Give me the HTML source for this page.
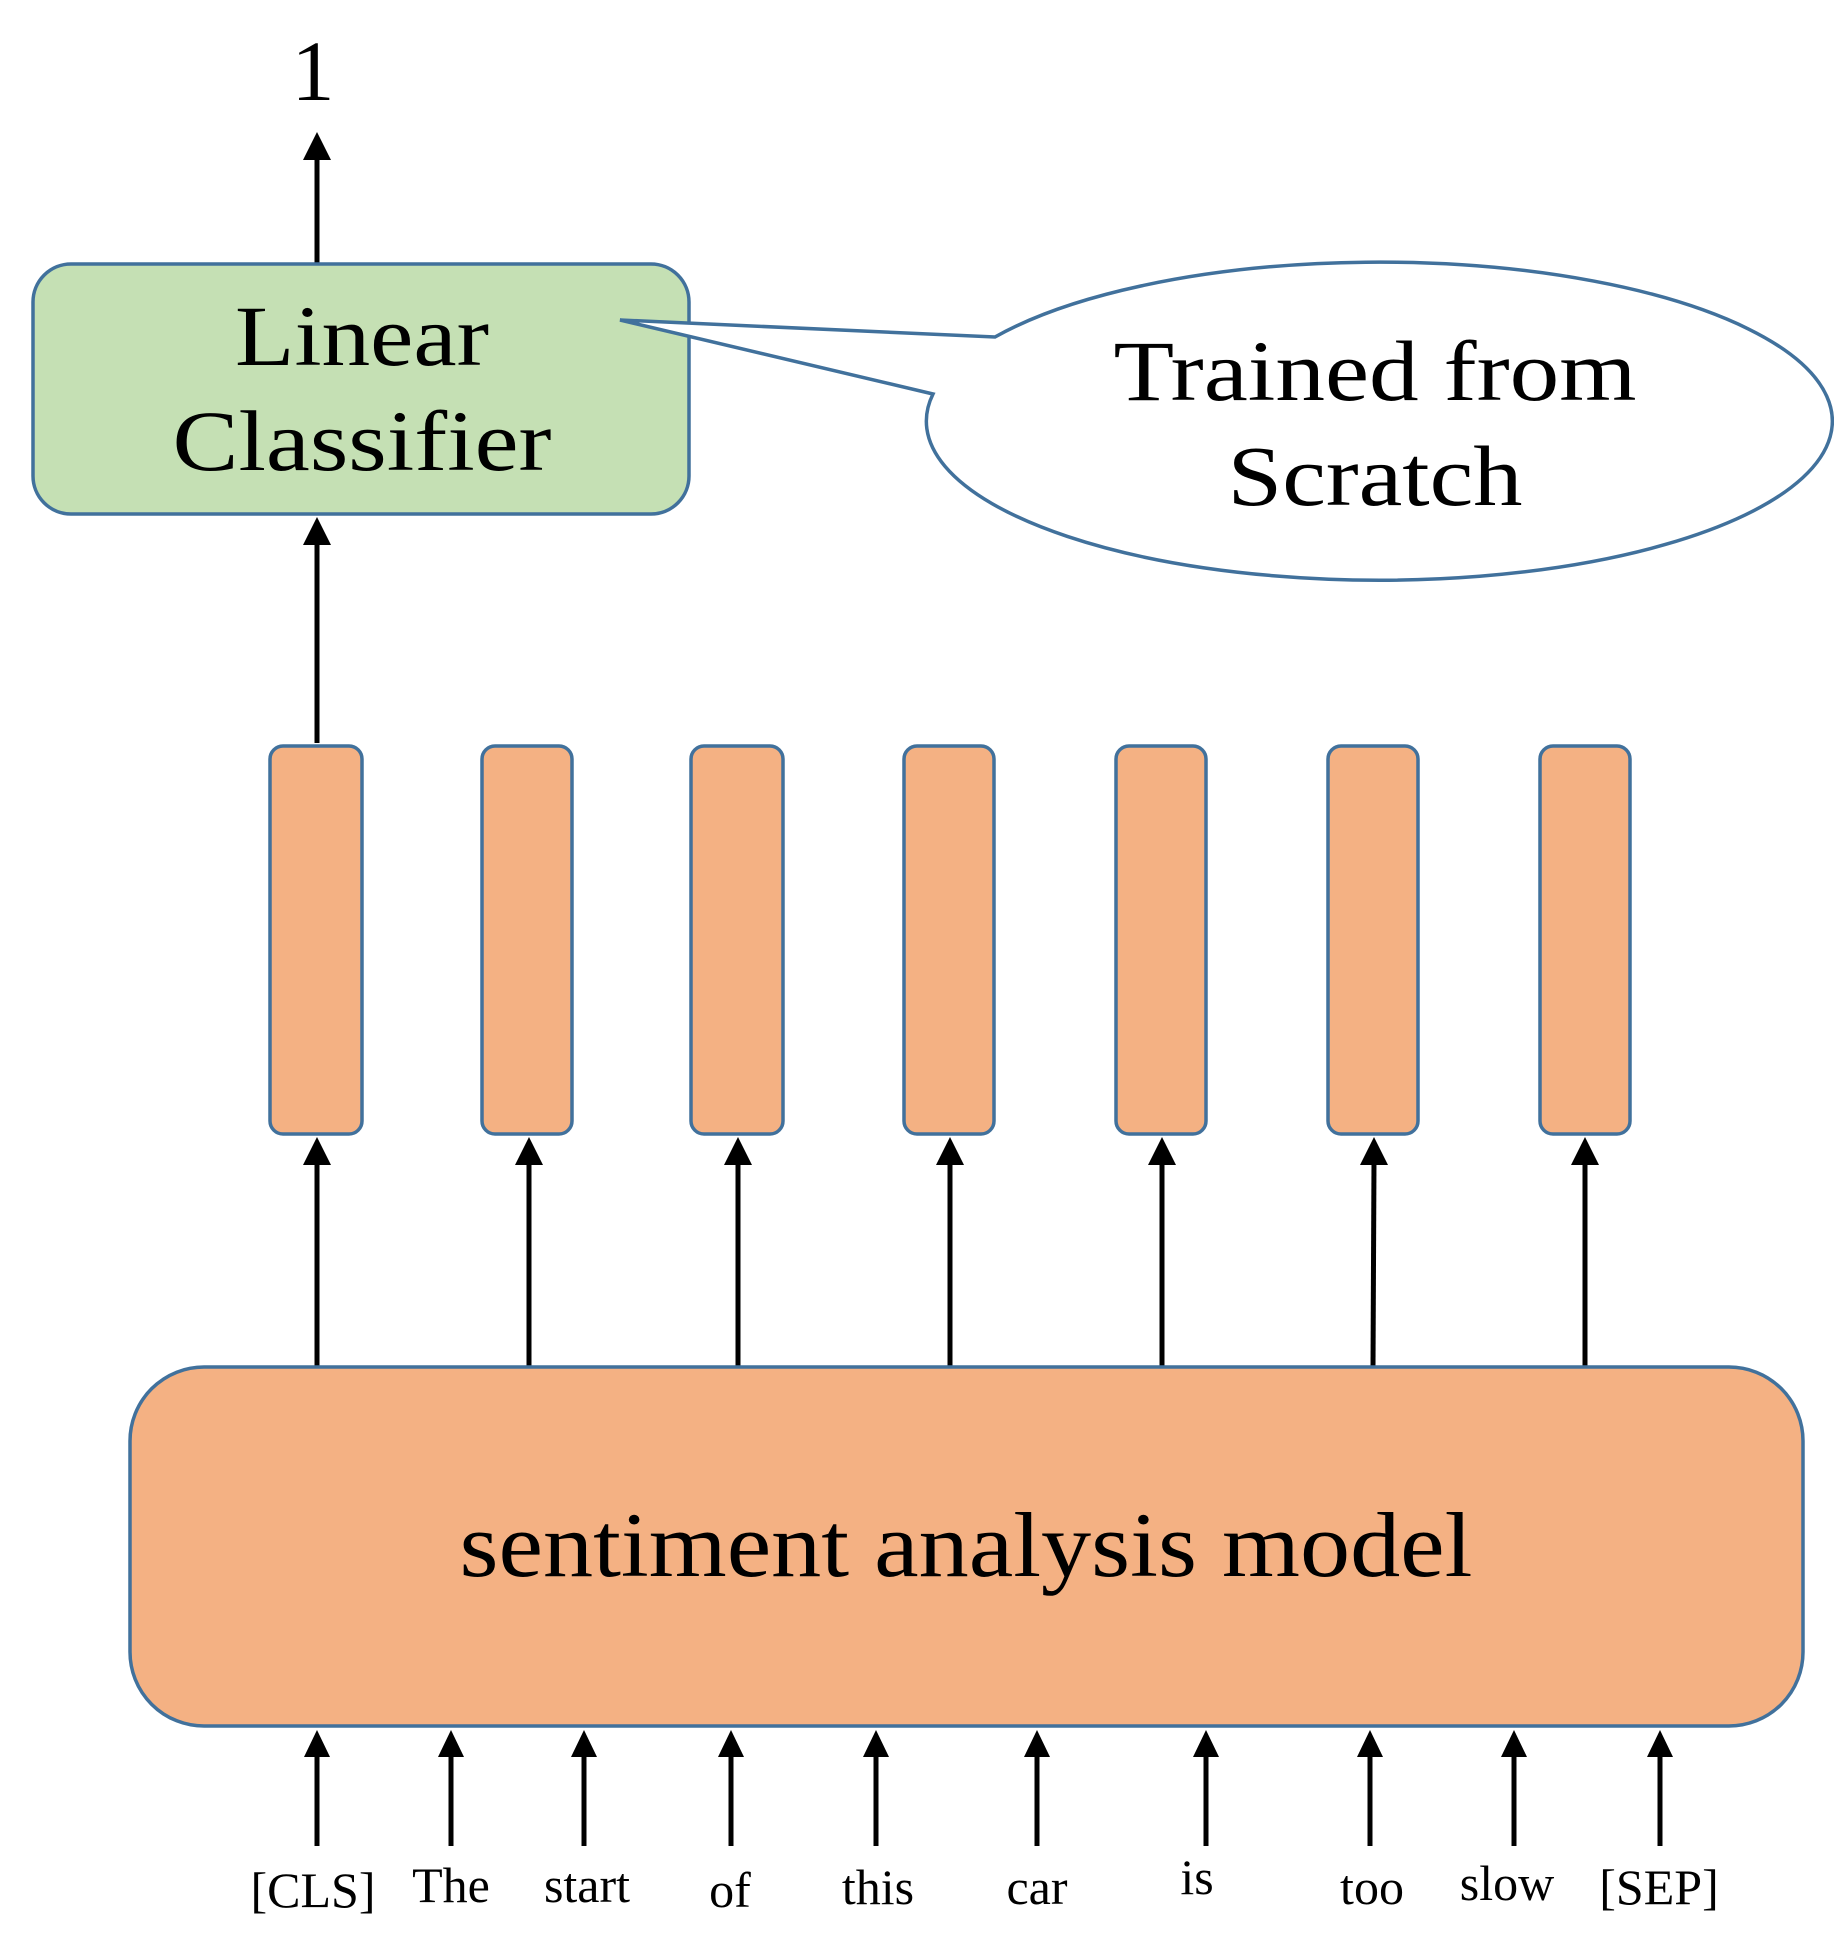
<!DOCTYPE html>
<html><head><meta charset="utf-8"><style>
html,body{margin:0;padding:0;background:#fff}
svg{display:block}
text{font-family:"Liberation Serif",serif;fill:#000}
</style></head><body>
<svg width="1834" height="1943" viewBox="0 0 1834 1943" xmlns="http://www.w3.org/2000/svg">
<g stroke="#000" stroke-width="5" fill="none">
<line x1="317" y1="263" x2="317" y2="150"/>
<line x1="317" y1="743" x2="317" y2="535"/>
</g>
<g fill="#000">
<path d="M317,132 L303,160 L331,160 Z"/>
<path d="M317,517 L303,545 L331,545 Z"/>
</g>
<text x="313" y="100" font-size="86" text-anchor="middle">1</text>
<rect x="33" y="264" width="656" height="250" rx="38" fill="#C5E0B4" stroke="#41719C" stroke-width="3.5"/>
<text x="362" y="365" font-size="86" text-anchor="middle" textLength="254" lengthAdjust="spacingAndGlyphs">Linear</text>
<text x="362" y="470" font-size="86" text-anchor="middle" textLength="379" lengthAdjust="spacingAndGlyphs">Classifier</text>
<path d="M995,337 A453,159 0 1 1 933,394 L620,320 Z" fill="#fff" stroke="#41719C" stroke-width="3.5" stroke-linejoin="miter"/>
<text x="1375" y="400" font-size="86" text-anchor="middle" textLength="523" lengthAdjust="spacingAndGlyphs">Trained from</text>
<text x="1375" y="505" font-size="86" text-anchor="middle" textLength="295" lengthAdjust="spacingAndGlyphs">Scratch</text>
<g fill="#F4B183" stroke="#41719C" stroke-width="3.5">
<rect x="270" y="746" width="92" height="388" rx="13"/>
<rect x="482" y="746" width="90" height="388" rx="13"/>
<rect x="691" y="746" width="92" height="388" rx="13"/>
<rect x="904" y="746" width="90" height="388" rx="13"/>
<rect x="1116" y="746" width="90" height="388" rx="13"/>
<rect x="1328" y="746" width="90" height="388" rx="13"/>
<rect x="1540" y="746" width="90" height="388" rx="13"/>
</g>
<g stroke="#000" stroke-width="5">
<line x1="317" y1="1367" x2="317" y2="1160"/>
<line x1="529" y1="1367" x2="529" y2="1160"/>
<line x1="738" y1="1367" x2="738" y2="1160"/>
<line x1="950" y1="1367" x2="950" y2="1160"/>
<line x1="1162" y1="1367" x2="1162" y2="1160"/>
<line x1="1373" y1="1367" x2="1374" y2="1160"/>
<line x1="1585" y1="1367" x2="1585" y2="1160"/>
</g>
<g fill="#000">
<path d="M317,1137 L303,1165 L331,1165 Z"/>
<path d="M529,1137 L515,1165 L543,1165 Z"/>
<path d="M738,1137 L724,1165 L752,1165 Z"/>
<path d="M950,1137 L936,1165 L964,1165 Z"/>
<path d="M1162,1137 L1148,1165 L1176,1165 Z"/>
<path d="M1374,1137 L1360,1165 L1388,1165 Z"/>
<path d="M1585,1137 L1571,1165 L1599,1165 Z"/>
</g>
<rect x="130" y="1367" width="1673" height="359" rx="74" fill="#F4B183" stroke="#41719C" stroke-width="3.5"/>
<text x="966" y="1576" font-size="92" text-anchor="middle" textLength="1013" lengthAdjust="spacingAndGlyphs">sentiment analysis model</text>
<g stroke="#000" stroke-width="5">
<line x1="317" y1="1846" x2="317" y2="1750"/>
<line x1="451" y1="1846" x2="451" y2="1750"/>
<line x1="584" y1="1846" x2="584" y2="1750"/>
<line x1="731" y1="1846" x2="731" y2="1750"/>
<line x1="876" y1="1846" x2="876" y2="1750"/>
<line x1="1037" y1="1846" x2="1037" y2="1750"/>
<line x1="1206" y1="1846" x2="1206" y2="1750"/>
<line x1="1370" y1="1846" x2="1370" y2="1750"/>
<line x1="1514" y1="1846" x2="1514" y2="1750"/>
<line x1="1660" y1="1846" x2="1660" y2="1750"/>
</g>
<g fill="#000">
<path d="M317,1730 L304,1757 L330,1757 Z"/>
<path d="M451,1730 L438,1757 L464,1757 Z"/>
<path d="M584,1730 L571,1757 L597,1757 Z"/>
<path d="M731,1730 L718,1757 L744,1757 Z"/>
<path d="M876,1730 L863,1757 L889,1757 Z"/>
<path d="M1037,1730 L1024,1757 L1050,1757 Z"/>
<path d="M1206,1730 L1193,1757 L1219,1757 Z"/>
<path d="M1370,1730 L1357,1757 L1383,1757 Z"/>
<path d="M1514,1730 L1501,1757 L1527,1757 Z"/>
<path d="M1660,1730 L1647,1757 L1673,1757 Z"/>
</g>
<g font-size="50" text-anchor="middle">
<text x="313" y="1907">[CLS]</text>
<text x="451" y="1902">The</text>
<text x="587" y="1902">start</text>
<text x="730" y="1907">of</text>
<text x="878" y="1904">this</text>
<text x="1037" y="1904">car</text>
<text x="1197" y="1894">is</text>
<text x="1372" y="1904">too</text>
<text x="1507" y="1900">slow</text>
<text x="1659" y="1904">[SEP]</text>
</g>
</svg>
</body></html>
